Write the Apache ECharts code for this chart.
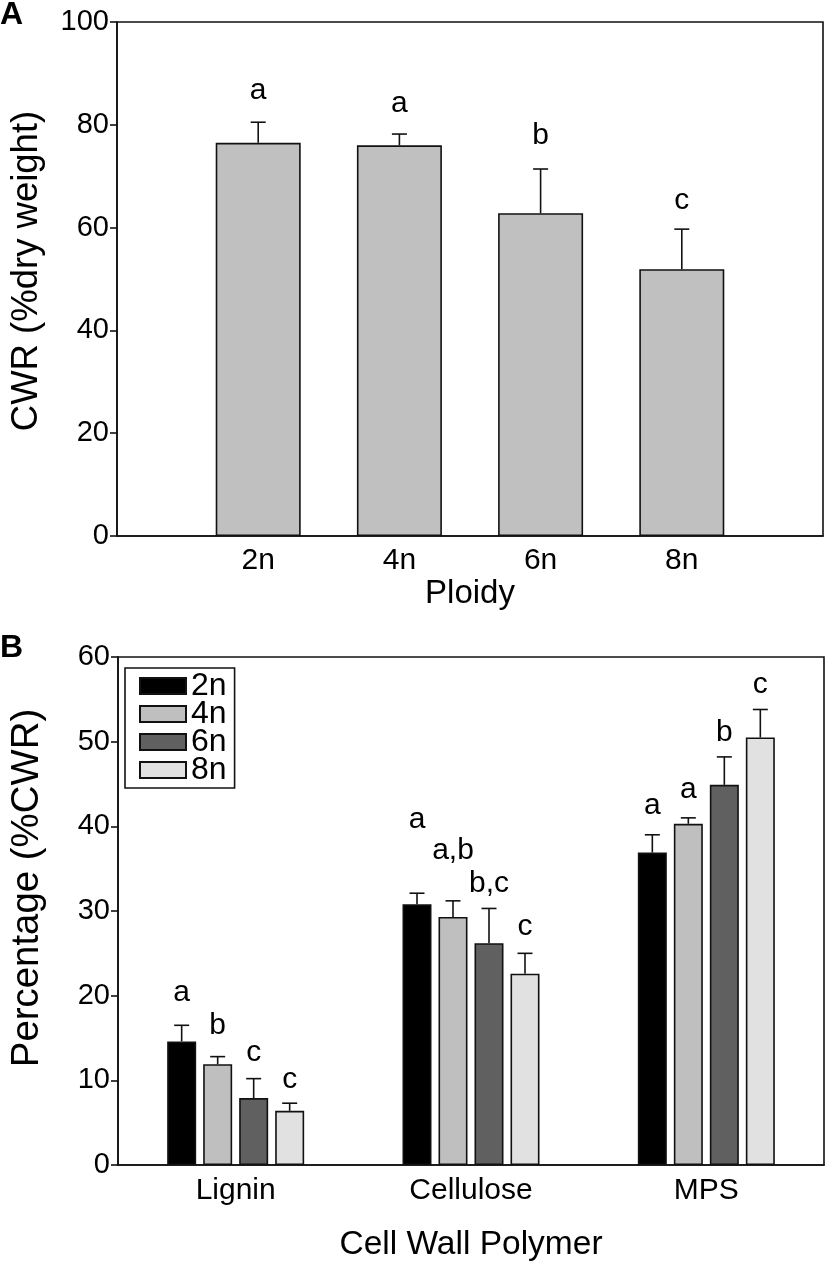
<!DOCTYPE html>
<html>
<head>
<meta charset="utf-8">
<script src="https://cdn.jsdelivr.net/npm/echarts@6/dist/echarts.min.js"></script>
<style>
html,body{margin:0;padding:0;background:#fff;}
#chart{width:826px;height:1263px;}
</style>
</head>
<body>
<div id="chart"></div>
<script>
// ---------- Panel A data ----------
const ploidy = ['2n', '4n', '6n', '8n'];
const cwrMean = [76.5, 76.0, 62.8, 51.9];
const cwrErr = [4.0, 2.2, 8.6, 7.8];
const cwrLetters = ['a', 'a', 'b', 'c'];
const cwrLetterY = [86.6, 84.1, 77.9, 65.2];
const yTicksA = { min: 0, max: 100, interval: 20 };

// ---------- Panel B data ----------
const polymers = ['Lignin', 'Cellulose', 'MPS'];
const mean2n = [14.6, 30.8, 36.9];
const mean4n = [11.9, 29.3, 40.3];
const mean6n = [7.9, 26.2, 44.9];
const mean8n = [6.4, 22.6, 50.5];
const err2n = [1.9, 1.3, 2.1];
const err4n = [0.9, 1.9, 0.7];
const err6n = [2.3, 4.1, 3.3];
const err8n = [0.9, 2.4, 3.3];
const letters2n = ['a', 'a', 'a'];
const letters4n = ['b', 'a,b', 'a'];
const letters6n = ['c', 'b,c', 'b'];
const letters8n = ['c', 'c', 'c'];
const letterY2n = [20.3, 40.8, 42.4];
const letterY4n = [16.4, 37.1, 44.3];
const letterY6n = [13.3, 33.2, 51.1];
const letterY8n = [10.1, 28.1, 56.7];
const yTicksB = { min: 0, max: 60, interval: 10 };

// ---------- styling ----------
const FONT = '"Liberation Sans", Arial, Helvetica, sans-serif';
const colorsB = ['#000000', '#bfbfbf', '#606060', '#e1e1e1'];
const barWB = 29, gapB = 7;
const pitchB = barWB + gapB;

const chart = echarts.init(document.getElementById('chart'), null, { renderer: 'canvas' });

function errRender(offset, cap) {
  return function (params, api) {
    const x = api.value(0), m = api.value(1), e = api.value(2);
    const p0 = api.coord([x, m]);
    const p1 = api.coord([x, m + e]);
    const cx = p0[0] + offset;
    return {
      type: 'group',
      children: [
        { type: 'line', shape: { x1: cx, y1: p0[1], x2: cx, y2: p1[1] }, style: { stroke: '#111', lineWidth: 1.6 } },
        { type: 'line', shape: { x1: cx - cap / 2, y1: p1[1], x2: cx + cap / 2, y2: p1[1] }, style: { stroke: '#111', lineWidth: 1.6 } }
      ]
    };
  };
}
function letterRender(offset) {
  return function (params, api) {
    const x = api.value(0), y = api.value(1);
    const p = api.coord([x, y]);
    return {
      type: 'text', x: p[0] + offset, y: p[1],
      style: { text: api.value(2), fontSize: 30, fontFamily: FONT, fill: '#000', align: 'center', verticalAlign: 'middle' }
    };
  };
}

const axisLineStyle = { show: true, lineStyle: { color: '#111', width: 1.6 } };

const catA = [''].concat(ploidy).concat(['']);
const padA = arr => [null].concat(arr).concat([null]);

const seriesB = [];
const meansB = [mean2n, mean4n, mean6n, mean8n];
const errsB = [err2n, err4n, err6n, err8n];
const lettersB = [letters2n, letters4n, letters6n, letters8n];
const letterYB = [letterY2n, letterY4n, letterY6n, letterY8n];
ploidy.forEach((p, k) => {
  seriesB.push({
    name: p, type: 'bar', xAxisIndex: 1, yAxisIndex: 1,
    barWidth: barWB, barGap: (gapB / barWB * 100) + '%',
    itemStyle: { color: colorsB[k], borderColor: '#111', borderWidth: 1.6 },
    data: meansB[k]
  });
});
ploidy.forEach((p, k) => {
  const off = (k - 1.5) * pitchB;
  seriesB.push({
    name: 'err' + p, type: 'custom', xAxisIndex: 1, yAxisIndex: 1, z: 5,
    renderItem: errRender(off, 15),
    data: meansB[k].map((m, i) => [i, m, errsB[k][i]])
  });
  seriesB.push({
    name: 'let' + p, type: 'custom', xAxisIndex: 1, yAxisIndex: 1, z: 5,
    renderItem: letterRender(off),
    data: letterYB[k].map((y, i) => [i, y, lettersB[k][i]])
  });
});

const option = {
  animation: false,
  backgroundColor: '#fff',
  textStyle: { fontFamily: FONT },
  grid: [
    { left: 113, right: 2, top: 22, height: 514, show: true, borderColor: '#111', borderWidth: 1.6 },
    { left: 113, right: 2, top: 657, height: 514, show: true, borderColor: '#111', borderWidth: 1.6 }
  ],
  legend: {
    data: ploidy,
    orient: 'vertical',
    left: 125, top: 668,
    itemWidth: 46, itemHeight: 16, itemGap: -4,
    borderColor: '#111', borderWidth: 1.6,
    padding: [2, 8, 2, 14],
    icon: 'rect',
    selectedMode: false,
    textStyle: { fontSize: 32, fontFamily: FONT, color: '#000' }
  },
  xAxis: [
    {
      type: 'category', gridIndex: 0, data: catA, boundaryGap: false,
      axisLine: axisLineStyle, axisTick: { show: false },
      axisLabel: { fontSize: 30, color: '#000', fontFamily: FONT, margin: 10, interval: 0 },
      name: 'Ploidy', nameLocation: 'middle', nameGap: 41,
      nameTextStyle: { fontSize: 33, color: '#000', fontFamily: FONT }
    },
    {
      type: 'category', gridIndex: 1, data: polymers, boundaryGap: true,
      axisLine: axisLineStyle, axisTick: { show: false },
      axisLabel: { fontSize: 30, color: '#000', fontFamily: FONT, margin: 11, interval: 0 },
      name: 'Cell Wall Polymer', nameLocation: 'middle', nameGap: 63,
      nameTextStyle: { fontSize: 33.5, color: '#000', fontFamily: FONT }
    }
  ],
  yAxis: [
    {
      type: 'value', gridIndex: 0, min: yTicksA.min, max: yTicksA.max, interval: yTicksA.interval,
      axisLine: axisLineStyle, axisTick: { show: true, length: 7, lineStyle: { color: '#111', width: 1.6 } },
      splitLine: { show: false },
      axisLabel: { fontSize: 29, color: '#000', fontFamily: FONT, margin: 8 },
      name: 'CWR (%dry weight)', nameLocation: 'middle', nameGap: 72,
      nameTextStyle: { fontSize: 36.5, color: '#000', fontFamily: FONT, padding: [0, 0, 0, 16] }
    },
    {
      type: 'value', gridIndex: 1, min: yTicksB.min, max: yTicksB.max, interval: yTicksB.interval,
      axisLine: axisLineStyle, axisTick: { show: true, length: 7, lineStyle: { color: '#111', width: 1.6 } },
      splitLine: { show: false },
      axisLabel: { fontSize: 29, color: '#000', fontFamily: FONT, margin: 8 },
      name: 'Percentage (%CWR)', nameLocation: 'middle', nameGap: 72,
      nameTextStyle: { fontSize: 38.4, color: '#000', fontFamily: FONT, padding: [0, 0, 0, 46] }
    }
  ],
  graphic: [
    { type: 'text', x: 0, y: 15.5, style: { text: 'A', fontSize: 32, fontWeight: 'bold', fontFamily: FONT, fill: '#000', verticalAlign: 'middle' } },
    { type: 'text', x: 0, y: 648, style: { text: 'B', fontSize: 32, fontWeight: 'bold', fontFamily: FONT, fill: '#000', verticalAlign: 'middle' } }
  ],
  series: [
    {
      name: 'CWR', type: 'bar', xAxisIndex: 0, yAxisIndex: 0, barWidth: 85,
      itemStyle: { color: '#c0c0c0', borderColor: '#111', borderWidth: 1.6 },
      data: padA(cwrMean)
    },
    {
      name: 'errA', type: 'custom', xAxisIndex: 0, yAxisIndex: 0, z: 5,
      renderItem: errRender(0, 15),
      data: cwrMean.map((m, i) => [i + 1, m, cwrErr[i]])
    },
    {
      name: 'letA', type: 'custom', xAxisIndex: 0, yAxisIndex: 0, z: 5,
      renderItem: letterRender(0),
      data: cwrLetterY.map((y, i) => [i + 1, y, cwrLetters[i]])
    }
  ].concat(seriesB)
};
chart.setOption(option);
</script>
</body>
</html>
